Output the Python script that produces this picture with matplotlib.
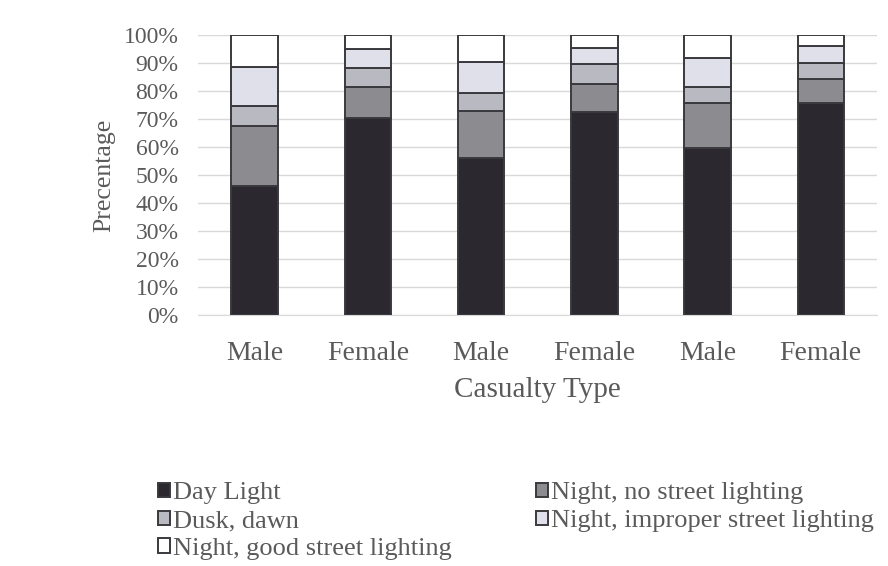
import numpy as np
import matplotlib
matplotlib.use("Agg")
import matplotlib.pyplot as plt

# casualty groups along the x axis
categories = ["Male", "Female", "Male", "Female", "Male", "Female"]

# share of casualties by light condition (percent, stacked bottom to top)
day_light = [46.1, 70.5, 56.2, 72.6, 59.8, 75.6]
night_no_lighting = [21.4, 11.0, 16.8, 9.9, 15.8, 8.7]
dusk_dawn = [7.2, 6.6, 6.4, 7.1, 5.9, 5.8]
night_improper = [14.0, 6.8, 11.1, 5.6, 10.2, 6.0]
night_good = [11.3, 5.1, 9.5, 4.8, 8.3, 3.9]

series = [
    ("Day Light", day_light, "#2b2830"),
    ("Night, no street lighting", night_no_lighting, "#8c8b90"),
    ("Dusk, dawn", dusk_dawn, "#b9b9c2"),
    ("Night, improper street lighting", night_improper, "#dfe0ea"),
    ("Night, good street lighting", night_good, "#ffffff"),
]

plt.rcParams['font.family'] = ['Liberation Serif', 'DejaVu Serif']
text_col = "#5a5a5a"

fig = plt.figure(figsize=(8.88, 5.66), dpi=100)
ax = fig.add_axes([0.223, 0.4435, 0.765, 0.4947])

x = np.arange(len(categories))
bottom = np.zeros(len(categories))
handles = {}
for name, vals, col in series:
    vals = np.array(vals) / 100.0
    b = ax.bar(x, vals, width=0.41, bottom=bottom, color=col,
               edgecolor="#3a3a3e", linewidth=1.4, label=name, zorder=3)
    handles[name] = b
    bottom += vals

ax.set_xlim(-0.5, len(categories) - 0.5)
ax.set_ylim(0, 1.0)
ticks = np.arange(0, 1.01, 0.1)
ax.set_yticks(ticks)
ax.set_yticklabels([f"{int(round(v * 100))}%" for v in ticks])
ax.set_xticks(x)
ax.set_xticklabels(categories)

ax.yaxis.grid(True, color="#d9d9d9", linewidth=1.0, zorder=0)
for s in ["top", "right", "left"]:
    ax.spines[s].set_visible(False)
ax.spines["bottom"].set_color("#d9d9d9")
ax.tick_params(axis="both", length=0)
ax.tick_params(axis="y", labelsize=17, labelcolor=text_col, pad=14)
ax.tick_params(axis="x", labelsize=20, labelcolor=text_col, pad=19)

ax.set_xlabel("Casualty Type", fontsize=21, color=text_col, labelpad=8)
ax.set_ylabel("Precentage", fontsize=18.5, color=text_col, labelpad=6)

order = ["Day Light", "Night, no street lighting", "Dusk, dawn",
         "Night, improper street lighting", "Night, good street lighting"]
# legend is filled column by column, so list the left column first
col1 = [order[0], order[2], order[4]]
col2 = [order[1], order[3]]
leg_names = col1 + col2
leg = fig.legend([handles[n] for n in leg_names], leg_names, ncol=2,
                 loc="upper left", bbox_to_anchor=(0.178, 0.148),
                 frameon=False, fontsize=19, handlelength=0.45,
                 handleheight=0.45, handletextpad=0.12, columnspacing=3.2,
                 labelspacing=0.22, borderaxespad=0, borderpad=0)
for t in leg.get_texts():
    t.set_color(text_col)

fig.savefig("out.png", dpi=100, facecolor="white")
